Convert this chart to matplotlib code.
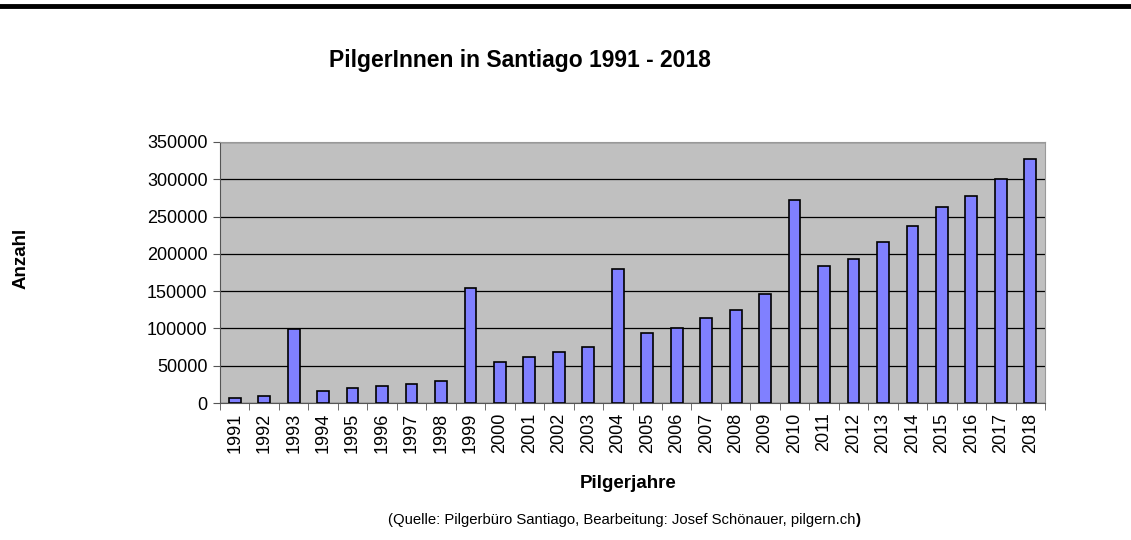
import matplotlib
matplotlib.use("Agg")
import matplotlib.pyplot as plt
import numpy as np

plt.rcParams['font.family'] = ['Liberation Sans', 'DejaVu Sans']

years = [str(y) for y in range(1991, 2019)]
pilger = [7274, 9764, 99436, 15863, 19821, 23218, 25179, 30126, 154613, 55004,
          61418, 68952, 74614, 179944, 93924, 100377, 114026, 125141, 145877,
          272135, 183366, 192488, 215880, 237886, 262516, 277915, 301036, 327378]
yticks = [0, 50000, 100000, 150000, 200000, 250000, 300000, 350000]

fig = plt.figure(figsize=(11.31, 5.40), dpi=100)
ax = fig.add_axes([220/1131, 1-403/540, (1045-220)/1131, (403-142)/540])
ax.set_facecolor('#C0C0C0')
x = np.arange(len(years))
ax.bar(x, pilger, width=0.4, color='#8080FF', edgecolor='black', linewidth=1.2, zorder=3)
ax.set_xlim(-0.5, len(years)-0.5)
ax.set_ylim(0, 350000)
ax.set_yticks(yticks)
ax.set_yticklabels([str(v) for v in yticks], fontsize=13)
ax.yaxis.grid(True, color='black', linewidth=0.9, zorder=1)
ax.set_xticks(x)
ax.set_xticklabels(years, rotation=90, fontsize=13)
ax.set_xticks(np.arange(-0.5, len(years), 1), minor=True)
ax.tick_params(axis='x', which='major', length=0, pad=7)
ax.tick_params(axis='x', which='minor', length=5, direction='out', color='#555555')
ax.tick_params(axis='y', length=5, direction='out', color='#555555', pad=4)
for s in ['top', 'right']:
    ax.spines[s].set_color('#999999')
for s in ['left', 'bottom']:
    ax.spines[s].set_color('#555555')

fig.text(520/1131, 1-60/540, 'PilgerInnen in Santiago 1991 - 2018', ha='center', va='center',
         fontsize=16.5, fontweight='bold')
fig.text(21/1131, 1-258/540, 'Anzahl', rotation=90, ha='center', va='center',
         fontsize=13.5, fontweight='bold')
fig.text(628/1131, 1-483/540, 'Pilgerjahre', ha='center', va='center',
         fontsize=13.5, fontweight='bold')
fig.text(856/1131, 1-520/540, '(Quelle: Pilgerbüro Santiago, Bearbeitung: Josef Schönauer, pilgern.ch',
         ha='right', va='center', fontsize=10.7)
fig.text(856/1131, 1-520/540, ')', ha='left', va='center', fontsize=10.7, fontweight='bold')

# top rule
fig.add_artist(plt.Line2D([0, 1], [1-6/540, 1-6/540], color='black', linewidth=3.5))

fig.savefig('out.png', dpi=100)
